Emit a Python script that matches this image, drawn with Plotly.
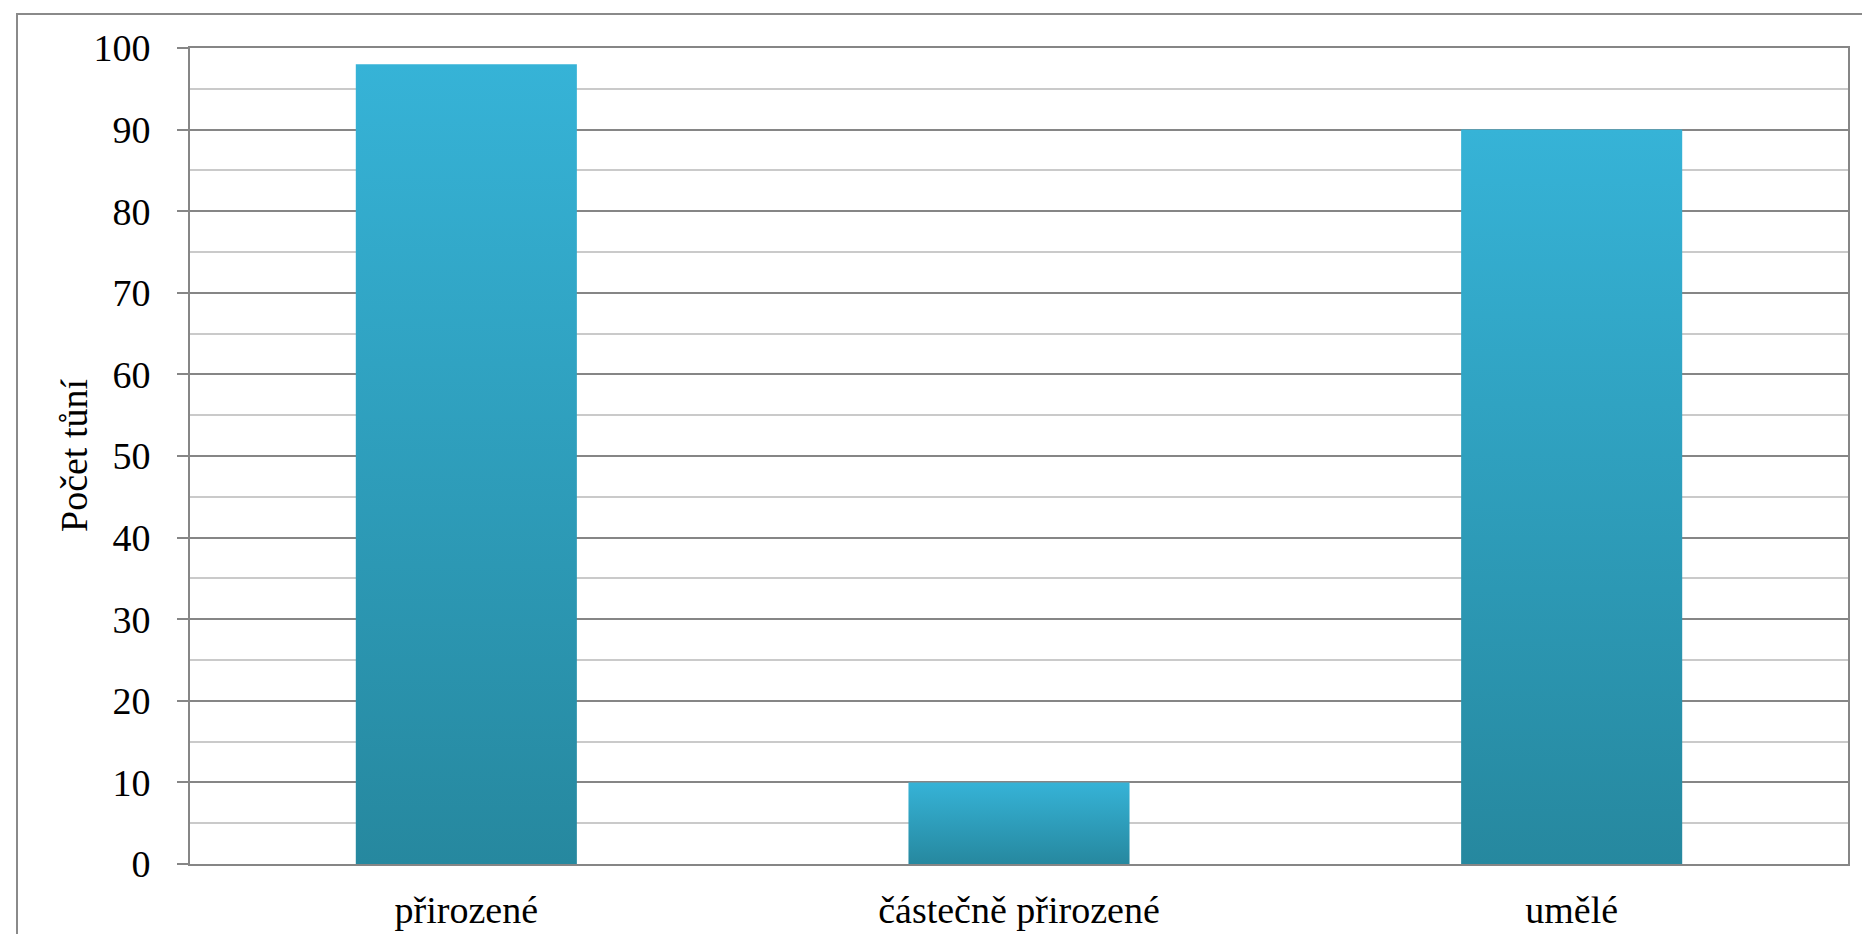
import plotly.graph_objects as go

categories = ["přirozené", "částečně přirozené", "umělé"]
values = [98, 10, 90]
y_ticks = [0, 10, 20, 30, 40, 50, 60, 70, 80, 90, 100]
y_title = "Počet tůní"

BAR_HALF = 0.2
LIGHT = "#36b3d7"
DARK = "#26889f"
FONT = "Liberation Serif, Times New Roman, serif"
FS = 38

fig = go.Figure()
for i, (cat, v) in enumerate(zip(categories, values)):
    xs = [i - BAR_HALF, i + BAR_HALF, i + BAR_HALF, i - BAR_HALF, i - BAR_HALF]
    ys = [0, 0, v, v, 0]
    fig.add_trace(go.Scatter(
        x=xs, y=ys, mode="lines", fill="toself",
        line=dict(width=0, color=DARK),
        fillgradient=dict(type="vertical", colorscale=[[0, DARK], [1, LIGHT]],
                          start=0, stop=v),
        name=cat, showlegend=False, hoverinfo="skip",
    ))

W, H = 1870, 934
L, R, T, B = 182, 30, 40, 78
pw, ph = W - L - R, H - T - B

fig.update_layout(
    width=W, height=H,
    margin=dict(l=L, r=R, t=T, b=B, autoexpand=False),
    paper_bgcolor="white", plot_bgcolor="white",
    font=dict(family=FONT, size=FS, color="black"),
    showlegend=False,
    xaxis=dict(
        range=[-0.5, 2.5], tickmode="array", tickvals=list(range(len(categories))),
        ticktext=categories, showgrid=False, zeroline=False,
        showline=True, linecolor="#868686", linewidth=2, mirror=True,
        ticks="", ticklabelstandoff=11, fixedrange=True,
    ),
    yaxis=dict(
        range=[0, 100], tickmode="array", tickvals=y_ticks,
        showgrid=True, gridcolor="#868686", gridwidth=2,
        zeroline=False, showline=True, linecolor="#868686", linewidth=2, mirror=True,
        ticks="outside", ticklen=11, tickwidth=2, tickcolor="#868686",
        ticklabelstandoff=19,
        minor=dict(dtick=5, showgrid=True, gridcolor="#cacaca", gridwidth=2, ticks=""),
        automargin=False,
    ),
)

fig.add_annotation(text=y_title, xref="paper", yref="paper",
                   x=(66 - L) / pw, y=0.5, xanchor="center", yanchor="middle",
                   textangle=-90, showarrow=False, font=dict(family=FONT, size=FS, color="black"))

# outer chart border
x0 = (9 - L) / pw
x1 = (1869 - L) / pw
y1 = (H - B - 6) / ph
y0 = (H - B - 945) / ph
fig.add_shape(type="rect", xref="paper", yref="paper", x0=x0, x1=x1, y0=y0, y1=y1,
              line=dict(color="#8a8a8a", width=2), fillcolor="rgba(0,0,0,0)", layer="below")

fig.write_html("out.html")
